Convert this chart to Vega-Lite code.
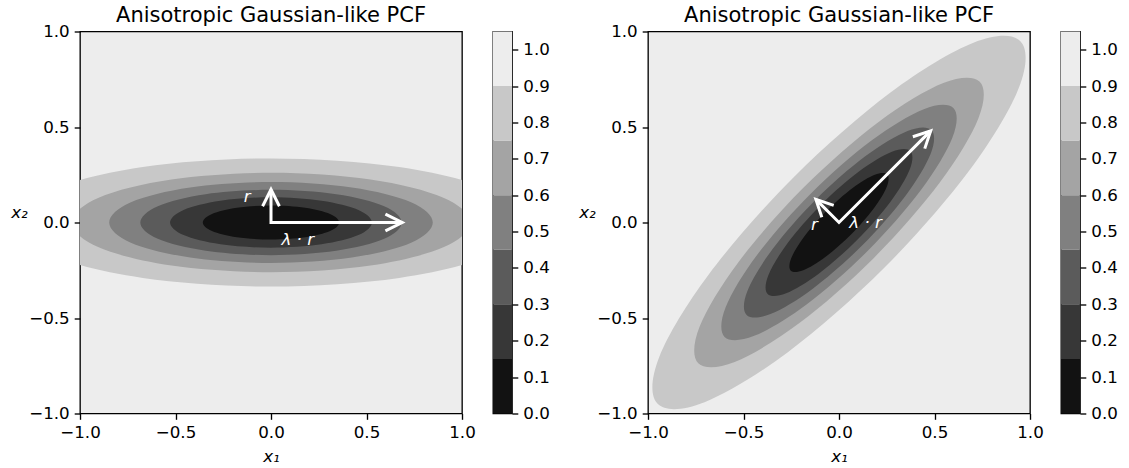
{
"$schema": "https://vega.github.io/schema/vega-lite/v6.json",
"padding": {"left": 10, "top": 3.5, "right": 5, "bottom": 2},
"datasets": {
"ell": [
{"lo":0.75,"o":0,"x":1.3429,"y":0,"rx":0.9496,"ry":0.9496},
{"lo":0.75,"o":1,"x":1.1630,"y":0.1677,"rx":0.7038,"ry":0.9410},
{"lo":0.75,"o":2,"x":0.6715,"y":0.2904,"rx":0.2695,"ry":0.6802},
{"lo":0.75,"o":3,"x":0,"y":0.3353,"rx":-0.2371,"ry":0.2371},
{"lo":0.75,"o":4,"x":-0.6715,"y":0.2904,"rx":-0.6802,"ry":-0.2695},
{"lo":0.75,"o":5,"x":-1.1630,"y":0.1677,"rx":-0.9410,"ry":-0.7038},
{"lo":0.75,"o":6,"x":-1.3429,"y":0,"rx":-0.9496,"ry":-0.9496},
{"lo":0.75,"o":7,"x":-1.1630,"y":-0.1677,"rx":-0.7038,"ry":-0.9410},
{"lo":0.75,"o":8,"x":-0.6715,"y":-0.2904,"rx":-0.2695,"ry":-0.6802},
{"lo":0.75,"o":9,"x":0,"y":-0.3353,"rx":0.2371,"ry":-0.2371},
{"lo":0.75,"o":10,"x":0.6715,"y":-0.2904,"rx":0.6802,"ry":0.2695},
{"lo":0.75,"o":11,"x":1.1630,"y":-0.1677,"rx":0.9410,"ry":0.7038},
{"lo":0.6,"o":0,"x":1.0420,"y":0,"rx":0.7368,"ry":0.7368},
{"lo":0.6,"o":1,"x":0.9024,"y":0.1301,"rx":0.5461,"ry":0.7301},
{"lo":0.6,"o":2,"x":0.5210,"y":0.2253,"rx":0.2091,"ry":0.5277},
{"lo":0.6,"o":3,"x":0,"y":0.2602,"rx":-0.1840,"ry":0.1840},
{"lo":0.6,"o":4,"x":-0.5210,"y":0.2253,"rx":-0.5277,"ry":-0.2091},
{"lo":0.6,"o":5,"x":-0.9024,"y":0.1301,"rx":-0.7301,"ry":-0.5461},
{"lo":0.6,"o":6,"x":-1.0420,"y":0,"rx":-0.7368,"ry":-0.7368},
{"lo":0.6,"o":7,"x":-0.9024,"y":-0.1301,"rx":-0.5461,"ry":-0.7301},
{"lo":0.6,"o":8,"x":-0.5210,"y":-0.2253,"rx":-0.2091,"ry":-0.5277},
{"lo":0.6,"o":9,"x":0,"y":-0.2602,"rx":0.1840,"ry":-0.1840},
{"lo":0.6,"o":10,"x":0.5210,"y":-0.2253,"rx":0.5277,"ry":0.2091},
{"lo":0.6,"o":11,"x":0.9024,"y":-0.1301,"rx":0.7301,"ry":0.5461},
{"lo":0.45,"o":0,"x":0.8471,"y":0,"rx":0.5990,"ry":0.5990},
{"lo":0.45,"o":1,"x":0.7336,"y":0.1058,"rx":0.4439,"ry":0.5935},
{"lo":0.45,"o":2,"x":0.4236,"y":0.1832,"rx":0.1700,"ry":0.4291},
{"lo":0.45,"o":3,"x":0,"y":0.2115,"rx":-0.1496,"ry":0.1496},
{"lo":0.45,"o":4,"x":-0.4236,"y":0.1832,"rx":-0.4291,"ry":-0.1700},
{"lo":0.45,"o":5,"x":-0.7336,"y":0.1058,"rx":-0.5935,"ry":-0.4439},
{"lo":0.45,"o":6,"x":-0.8471,"y":0,"rx":-0.5990,"ry":-0.5990},
{"lo":0.45,"o":7,"x":-0.7336,"y":-0.1058,"rx":-0.4439,"ry":-0.5935},
{"lo":0.45,"o":8,"x":-0.4236,"y":-0.1832,"rx":-0.1700,"ry":-0.4291},
{"lo":0.45,"o":9,"x":0,"y":-0.2115,"rx":0.1496,"ry":-0.1496},
{"lo":0.45,"o":10,"x":0.4236,"y":-0.1832,"rx":0.4291,"ry":0.1700},
{"lo":0.45,"o":11,"x":0.7336,"y":-0.1058,"rx":0.5935,"ry":0.4439},
{"lo":0.3,"o":0,"x":0.6843,"y":0,"rx":0.4839,"ry":0.4839},
{"lo":0.3,"o":1,"x":0.5926,"y":0.0855,"rx":0.3586,"ry":0.4795},
{"lo":0.3,"o":2,"x":0.3422,"y":0.1480,"rx":0.1373,"ry":0.3466},
{"lo":0.3,"o":3,"x":0,"y":0.1709,"rx":-0.1208,"ry":0.1208},
{"lo":0.3,"o":4,"x":-0.3422,"y":0.1480,"rx":-0.3466,"ry":-0.1373},
{"lo":0.3,"o":5,"x":-0.5926,"y":0.0855,"rx":-0.4795,"ry":-0.3586},
{"lo":0.3,"o":6,"x":-0.6843,"y":0,"rx":-0.4839,"ry":-0.4839},
{"lo":0.3,"o":7,"x":-0.5926,"y":-0.0855,"rx":-0.3586,"ry":-0.4795},
{"lo":0.3,"o":8,"x":-0.3422,"y":-0.1480,"rx":-0.1373,"ry":-0.3466},
{"lo":0.3,"o":9,"x":0,"y":-0.1709,"rx":0.1208,"ry":-0.1208},
{"lo":0.3,"o":10,"x":0.3422,"y":-0.1480,"rx":0.3466,"ry":0.1373},
{"lo":0.3,"o":11,"x":0.5926,"y":-0.0855,"rx":0.4795,"ry":0.3586},
{"lo":0.15,"o":0,"x":0.5285,"y":0,"rx":0.3737,"ry":0.3737},
{"lo":0.15,"o":1,"x":0.4577,"y":0.0660,"rx":0.2770,"ry":0.3703},
{"lo":0.15,"o":2,"x":0.2643,"y":0.1143,"rx":0.1061,"ry":0.2677},
{"lo":0.15,"o":3,"x":0,"y":0.1320,"rx":-0.0933,"ry":0.0933},
{"lo":0.15,"o":4,"x":-0.2643,"y":0.1143,"rx":-0.2677,"ry":-0.1061},
{"lo":0.15,"o":5,"x":-0.4577,"y":0.0660,"rx":-0.3703,"ry":-0.2770},
{"lo":0.15,"o":6,"x":-0.5285,"y":0,"rx":-0.3737,"ry":-0.3737},
{"lo":0.15,"o":7,"x":-0.4577,"y":-0.0660,"rx":-0.2770,"ry":-0.3703},
{"lo":0.15,"o":8,"x":-0.2643,"y":-0.1143,"rx":-0.1061,"ry":-0.2677},
{"lo":0.15,"o":9,"x":0,"y":-0.1320,"rx":0.0933,"ry":-0.0933},
{"lo":0.15,"o":10,"x":0.2643,"y":-0.1143,"rx":0.2677,"ry":0.1061},
{"lo":0.15,"o":11,"x":0.4577,"y":-0.0660,"rx":0.3703,"ry":0.2770},
{"lo":0,"o":0,"x":0.3570,"y":0,"rx":0.2524,"ry":0.2524},
{"lo":0,"o":1,"x":0.3092,"y":0.0446,"rx":0.1871,"ry":0.2502},
{"lo":0,"o":2,"x":0.1785,"y":0.0772,"rx":0.0716,"ry":0.1808},
{"lo":0,"o":3,"x":0,"y":0.0891,"rx":-0.0630,"ry":0.0630},
{"lo":0,"o":4,"x":-0.1785,"y":0.0772,"rx":-0.1808,"ry":-0.0716},
{"lo":0,"o":5,"x":-0.3092,"y":0.0446,"rx":-0.2502,"ry":-0.1871},
{"lo":0,"o":6,"x":-0.3570,"y":0,"rx":-0.2524,"ry":-0.2524},
{"lo":0,"o":7,"x":-0.3092,"y":-0.0446,"rx":-0.1871,"ry":-0.2502},
{"lo":0,"o":8,"x":-0.1785,"y":-0.0772,"rx":-0.0716,"ry":-0.1808},
{"lo":0,"o":9,"x":0,"y":-0.0891,"rx":0.0630,"ry":-0.0630},
{"lo":0,"o":10,"x":0.1785,"y":-0.0772,"rx":0.1808,"ry":0.0716},
{"lo":0,"o":11,"x":0.3092,"y":-0.0446,"rx":0.2502,"ry":0.1871}
],
"arr": [
{"s":"shaft","o":0,"x":0,"y":0.173,"rx":-0.121,"ry":0.121},
{"s":"shaft","o":1,"x":0,"y":0,"rx":0,"ry":0},
{"s":"shaft","o":2,"x":0.687,"y":0,"rx":0.48,"ry":0.48},
{"s":"hr","o":0,"x":-0.044,"y":0.085,"rx":-0.0899,"ry":0.0277},
{"s":"hr","o":1,"x":0,"y":0.173,"rx":-0.121,"ry":0.121},
{"s":"hr","o":2,"x":0.044,"y":0.085,"rx":-0.0277,"ry":0.0899},
{"s":"hl","o":0,"x":0.599,"y":0.044,"rx":0.3867,"ry":0.4489},
{"s":"hl","o":1,"x":0.687,"y":0,"rx":0.48,"ry":0.48},
{"s":"hl","o":2,"x":0.599,"y":-0.044,"rx":0.4489,"ry":0.3867}
],
"lab": [
{"t":"r","x":-0.125,"y":0.135,"rx":-0.129,"ry":-0.013},
{"t":"λ · r","x":0.140,"y":-0.090,"rx":0.139,"ry":-0.004}
],
"cb": [
{"lo":0,"hi":0.15},{"lo":0.15,"hi":0.3},{"lo":0.3,"hi":0.45},{"lo":0.45,"hi":0.6},{"lo":0.6,"hi":0.75},{"lo":0.75,"hi":0.9},{"lo":0.9,"hi":1.05}
]
},
"spacing": 27,
"hconcat": [
{"spacing": 16, "hconcat": [
{"width": 382, "height": 382, "title": "Anisotropic Gaussian-like PCF",
 "layer": [
 {"data": {"name": "ell"}, "mark": {"type": "line", "interpolate": "cardinal-closed", "filled": true, "clip": true, "strokeWidth": 0},
  "encoding": {
   "x": {"field": "x", "type": "quantitative", "scale": {"domain": [-1, 1], "nice": false, "zero": false}, "axis": {"values": [-1, -0.5, 0, 0.5, 1], "format": ".1f", "title": "x₁"}},
   "y": {"field": "y", "type": "quantitative", "scale": {"domain": [-1, 1], "nice": false, "zero": false}, "axis": {"values": [-1, -0.5, 0, 0.5, 1], "format": ".1f", "title": "x₂"}},
   "color": {"field": "lo", "type": "ordinal", "scale": {"domain": [0, 0.15, 0.3, 0.45, 0.6, 0.75, 0.9], "range": ["#121212", "#373737", "#5b5b5b", "#808080", "#a4a4a4", "#c8c8c8", "#ededed"]}, "legend": null},
   "order": {"field": "o", "type": "quantitative"}}},
 {"data": {"name": "arr"}, "mark": {"type": "line", "color": "white", "strokeWidth": 3, "strokeJoin": "miter", "strokeCap": "butt", "clip": true},
  "encoding": {"x": {"field": "x", "type": "quantitative"}, "y": {"field": "y", "type": "quantitative"}, "detail": {"field": "s"}, "order": {"field": "o", "type": "quantitative"}}},
 {"data": {"name": "lab"}, "mark": {"type": "text", "color": "white", "fontSize": 16.7, "fontStyle": "italic", "font": "DejaVu Sans", "align": "center", "baseline": "middle"},
  "encoding": {"x": {"field": "x", "type": "quantitative"}, "y": {"field": "y", "type": "quantitative"}, "text": {"field": "t"}}}
 ]},
{"width": 19, "height": 382, "data": {"name": "cb"}, "mark": {"type": "rect"},
 "encoding": {
  "y": {"field": "lo", "type": "quantitative", "scale": {"domain": [0, 1.05], "nice": false, "zero": false}, "axis": {"orient": "right", "values": [0, 0.1, 0.2, 0.3, 0.4, 0.5, 0.6, 0.7, 0.8, 0.9, 1.0], "format": ".1f", "title": null}},
  "y2": {"field": "hi"},
  "color": {"field": "lo", "type": "ordinal", "scale": {"domain": [0, 0.15, 0.3, 0.45, 0.6, 0.75, 0.9], "range": ["#121212", "#373737", "#5b5b5b", "#808080", "#a4a4a4", "#c8c8c8", "#ededed"]}, "legend": null}}}
]},
{"spacing": 16, "hconcat": [
{"width": 382, "height": 382, "title": "Anisotropic Gaussian-like PCF",
 "layer": [
 {"data": {"name": "ell"}, "mark": {"type": "line", "interpolate": "cardinal-closed", "filled": true, "clip": true, "strokeWidth": 0},
  "encoding": {
   "x": {"field": "rx", "type": "quantitative", "scale": {"domain": [-1, 1], "nice": false, "zero": false}, "axis": {"values": [-1, -0.5, 0, 0.5, 1], "format": ".1f", "title": "x₁"}},
   "y": {"field": "ry", "type": "quantitative", "scale": {"domain": [-1, 1], "nice": false, "zero": false}, "axis": {"values": [-1, -0.5, 0, 0.5, 1], "format": ".1f", "title": "x₂"}},
   "color": {"field": "lo", "type": "ordinal", "scale": {"domain": [0, 0.15, 0.3, 0.45, 0.6, 0.75, 0.9], "range": ["#121212", "#373737", "#5b5b5b", "#808080", "#a4a4a4", "#c8c8c8", "#ededed"]}, "legend": null},
   "order": {"field": "o", "type": "quantitative"}}},
 {"data": {"name": "arr"}, "mark": {"type": "line", "color": "white", "strokeWidth": 3, "strokeJoin": "miter", "strokeCap": "butt", "clip": true},
  "encoding": {"x": {"field": "rx", "type": "quantitative"}, "y": {"field": "ry", "type": "quantitative"}, "detail": {"field": "s"}, "order": {"field": "o", "type": "quantitative"}}},
 {"data": {"name": "lab"}, "mark": {"type": "text", "color": "white", "fontSize": 16.7, "fontStyle": "italic", "font": "DejaVu Sans", "align": "center", "baseline": "middle"},
  "encoding": {"x": {"field": "rx", "type": "quantitative"}, "y": {"field": "ry", "type": "quantitative"}, "text": {"field": "t"}}}
 ]},
{"width": 19, "height": 382, "data": {"name": "cb"}, "mark": {"type": "rect"},
 "encoding": {
  "y": {"field": "lo", "type": "quantitative", "scale": {"domain": [0, 1.05], "nice": false, "zero": false}, "axis": {"orient": "right", "values": [0, 0.1, 0.2, 0.3, 0.4, 0.5, 0.6, 0.7, 0.8, 0.9, 1.0], "format": ".1f", "title": null}},
  "y2": {"field": "hi"},
  "color": {"field": "lo", "type": "ordinal", "scale": {"domain": [0, 0.15, 0.3, 0.45, 0.6, 0.75, 0.9], "range": ["#121212", "#373737", "#5b5b5b", "#808080", "#a4a4a4", "#c8c8c8", "#ededed"]}, "legend": null}}}
]}
],
"config": {
 "font": "DejaVu Sans",
 "background": "white",
 "view": {"stroke": "black", "strokeWidth": 1.33, "fill": "#ededed"},
 "title": {"font": "DejaVu Sans", "fontSize": 21, "fontWeight": "normal", "color": "black", "anchor": "middle", "frame": "group", "offset": -2},
 "axis": {"grid": false, "domain": false, "tickColor": "black", "tickSize": 5.8, "tickWidth": 1.33, "labelFont": "DejaVu Sans", "labelFontSize": 16.7, "labelColor": "black", "labelPadding": 5, "titleFont": "DejaVu Sans", "titleFontSize": 16.7, "titleFontWeight": "normal", "titleFontStyle": "italic", "titleColor": "black", "labelFlush": false, "labelOverlap": false},
 "axisX": {"titleBaseline": "alphabetic", "titleY": 48.4},
 "axisY": {"titleAngle": 0, "titleAlign": "center", "titleBaseline": "alphabetic", "titleX": -61, "titleY": 185.6}
}
}
